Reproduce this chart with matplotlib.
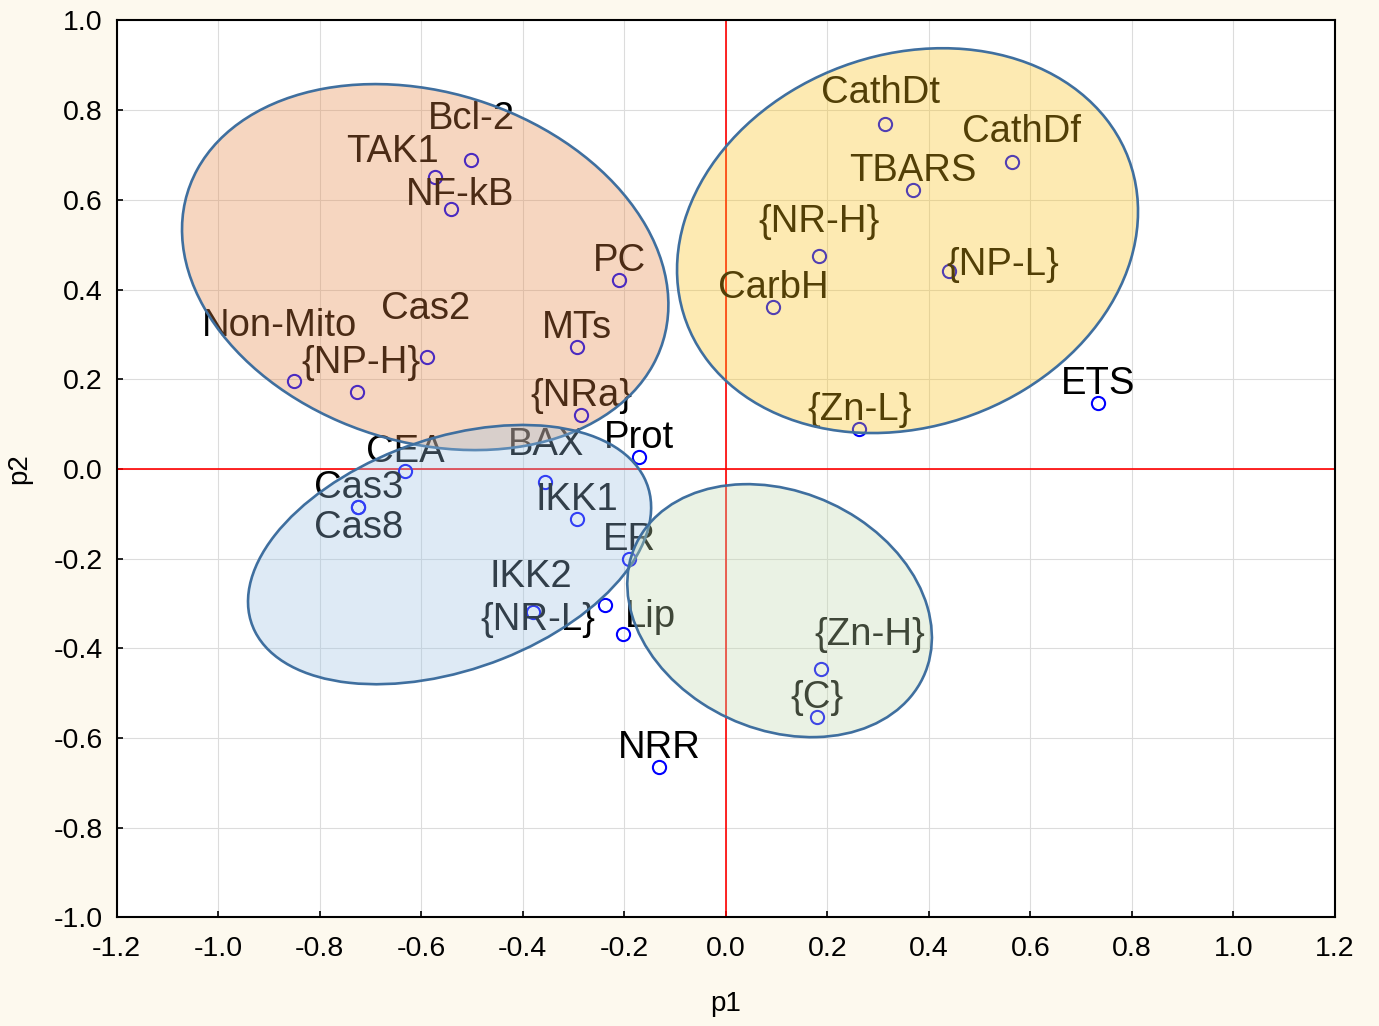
import numpy as np
import matplotlib
matplotlib.use("Agg")
import matplotlib.pyplot as plt
from matplotlib.patches import Ellipse
from matplotlib.ticker import FormatStrFormatter, MultipleLocator

plt.rcParams["font.family"] = ["Liberation Sans", "DejaVu Sans"]
plt.rcParams["axes.unicode_minus"] = False

# Variable loadings on the first two components
names = ["Bcl-2", "TAK1", "NF-kB", "PC", "MTs", "Cas2", "{NP-H}", "Non-Mito",
         "{NRa}", "Prot", "CEA", "BAX", "IKK1", "Cas3", "Cas8", "ER", "IKK2",
         "{NR-L}", "Lip", "NRR", "{Zn-H}", "{C}", "ETS", "CathDt", "CathDf",
         "TBARS", "{NR-H}", "{NP-L}", "CarbH", "{Zn-L}"]
p1 = [-0.502, -0.573, -0.541, -0.210, -0.293, -0.588, -0.726, -0.850,
      -0.285, -0.171, -0.632, -0.356, -0.293, -0.724, -0.724, -0.190, -0.380,
      -0.238, -0.202, -0.131, 0.188, 0.180, 0.733, 0.314, 0.564,
      0.369, 0.184, 0.440, 0.093, 0.263]
p2 = [0.689, 0.651, 0.580, 0.421, 0.272, 0.250, 0.172, 0.196,
      0.120, 0.027, -0.004, -0.029, -0.111, -0.085, -0.085, -0.201, -0.319,
      -0.303, -0.368, -0.664, -0.446, -0.553, 0.147, 0.769, 0.685,
      0.622, 0.475, 0.441, 0.361, 0.089]

# label shifts in pixels (text baseline relative to the marker), default (0, 9)
label_shift = {
    "Bcl-2": (0, 31), "TAK1": (-42, 15), "NF-kB": (9, 4), "Cas2": (-2, 38),
    "{NP-H}": (4, 19), "Non-Mito": (-15, 45), "BAX": (1, 27), "Cas8": (0, -31),
    "IKK2": (-2, 25), "{NR-L}": (-67, -25), "Lip": (27, 7), "{Zn-H}": (49, 24),
    "CathDt": (-5, 21), "CathDf": (9, 20), "{NR-H}": (0, 24), "{NP-L}": (54, -4),
}

# group outlines: center, half extent in x and y, correlation, fill colour
groups = [
    ((-0.592, 0.450), 0.479, 0.408, -0.205, (230, 133, 66)),
    ((0.358, 0.509), 0.454, 0.429, 0.152, (251, 194, 21)),
    ((-0.544, -0.191), 0.397, 0.289, 0.363, (155, 194, 227)),
    ((0.106, -0.316), 0.300, 0.282, -0.2125, (194, 218, 173)),
]


def group_ellipse(center, rx, ry, rho, rgb):
    cov = np.array([[rx ** 2, rho * rx * ry], [rho * rx * ry, ry ** 2]])
    vals, vecs = np.linalg.eigh(cov)
    angle = np.degrees(np.arctan2(vecs[1, 1], vecs[0, 1]))
    face = tuple(c / 255 for c in rgb) + (0.33,)
    return Ellipse(center, 2 * np.sqrt(vals[1]), 2 * np.sqrt(vals[0]),
                   angle=angle, facecolor=face, edgecolor="#3f6f9f",
                   linewidth=1.9, zorder=5)


fig = plt.figure(figsize=(13.79, 10.26), dpi=100, facecolor="#fdf9ee")
ax = fig.add_axes([0.0845, 0.1058, 0.8836, 0.8743])
ax.set_facecolor("white")

ax.axhline(0, color="red", linewidth=1.2, zorder=2)
ax.axvline(0, color="red", linewidth=1.2, zorder=2)

ax.plot(p1, p2, linestyle="none", marker="o", markersize=9.5,
        markerfacecolor="none", markeredgecolor="blue", markeredgewidth=1.5,
        zorder=3)

for name, x, y in zip(names, p1, p2):
    dx, dy = label_shift.get(name, (0, 9))
    ax.annotate(name, (x, y), xytext=(dx, dy), textcoords="offset pixels",
                ha="center", va="baseline", fontsize=27.5, color="black",
                zorder=4)

for center, rx, ry, rho, rgb in groups:
    ax.add_patch(group_ellipse(center, rx, ry, rho, rgb))

ax.set_xlim(-1.2, 1.2)
ax.set_ylim(-1.0, 1.0)
ax.xaxis.set_major_locator(MultipleLocator(0.2))
ax.yaxis.set_major_locator(MultipleLocator(0.2))
ax.xaxis.set_major_formatter(FormatStrFormatter("%.1f"))
ax.yaxis.set_major_formatter(FormatStrFormatter("%.1f"))
ax.tick_params(direction="in", length=4.5, width=1.2, labelsize=20.5)
ax.tick_params(axis="x", pad=13)
ax.tick_params(axis="y", pad=10)
ax.grid(True, color="#dcdcdc", linewidth=0.8, zorder=1)
ax.set_axisbelow(True)
for spine in ax.spines.values():
    spine.set_linewidth(1.5)
    spine.set_zorder(6)

ax.set_xlabel("p1", fontsize=20, labelpad=21)
ax.set_ylabel("p2", fontsize=20, labelpad=15)

fig.savefig("out.png", dpi=100, facecolor=fig.get_facecolor())
